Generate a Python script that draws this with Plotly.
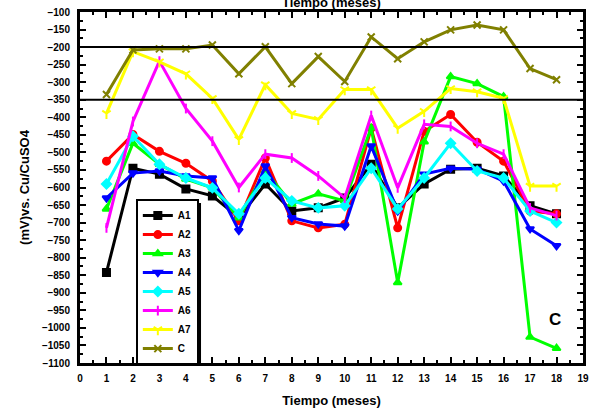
import plotly.graph_objects as go

months = list(range(1, 19))
series_names = ["A1", "A2", "A3", "A4", "A5", "A6", "A7", "C"]
a1 = [-842, -545, -562, -604, -624, -686, -590, -667, -658, -630, -534, -658, -590, -548, -545, -567, -652, -675]
a2 = [-525, -449, -497, -531, -582, -695, -516, -695, -715, -705, -431, -715, -440, -392, -471, -525, -667, -675]
a3 = [-661, -474, -534, -576, -601, -686, -553, -647, -618, -638, -430, -871, -470, -284, -304, -341, -1026, -1058]
a4 = [-630, -559, -553, -567, -573, -723, -539, -686, -704, -710, -482, -667, -562, -545, -548, -582, -718, -766]
a5 = [-590, -454, -534, -573, -601, -675, -573, -638, -658, -652, -545, -661, -573, -474, -553, -573, -667, -700]
a6 = [-715, -412, -240, -375, -468, -600, -505, -516, -567, -630, -395, -601, -420, -426, -474, -505, -658, -680]
a7 = [-389, -213, -242, -276, -346, -463, -307, -389, -406, -321, -321, -431, -383, -318, -327, -346, -596, -596]
c = [-335, -208, -205, -205, -194, -276, -199, -304, -227, -298, -171, -233, -185, -151, -137, -151, -261, -293]
series_values = [a1, a2, a3, a4, a5, a6, a7, c]
thresholds = [-200, -350]

colors = ["#000000", "#FF0000", "#00FF00", "#0000FF", "#00FFFF", "#FF00FF", "#FFFF00", "#808000"]
symbols = ["square", "circle", "triangle-up", "triangle-down", "diamond", "line-ns", "y-down", "x-thin"]

FONT = "Liberation Sans, Arial, sans-serif"

fig = go.Figure()
for name, vals, col, sym in zip(series_names, series_values, colors, symbols):
    fig.add_trace(go.Scatter(
        x=months, y=vals, name=name, mode="lines+markers",
        line=dict(color=col, width=3),
        marker=dict(symbol=sym, size=7, color=col, line=dict(color=col, width=2)),
    ))

for t in thresholds:
    fig.add_shape(type="line", xref="paper", x0=0, x1=1, yref="y", y0=t, y1=t,
                  line=dict(color="black", width=2), layer="above")

# legend drop shadow
fig.add_shape(type="rect", xref="paper", yref="paper",
              x0=0.119, x1=0.2406, y0=-0.0085, y1=0.456,
              fillcolor="black", line=dict(width=0), layer="above")

axis_common = dict(
    showline=True, linecolor="black", linewidth=3, mirror="allticks",
    ticks="inside", ticklen=6, tickwidth=2, tickcolor="black",
    showgrid=False, zeroline=False, automargin=False,
    tickfont=dict(family=FONT, size=10, color="black", weight="bold"),
)

fig.update_xaxes(range=[0, 19], dtick=1, tick0=0, ticklabelstandoff=4,
                 minor=dict(dtick=0.5, ticks="inside", ticklen=3, tickwidth=2, tickcolor="black"),
                 title=dict(text="<b>Tiempo (meses)</b>", font=dict(family=FONT, size=13, color="black"), standoff=13),
                 **axis_common)
fig.update_yaxes(range=[-1100, -100], dtick=50, tick0=-1100, ticklabelstandoff=5,
                 minor=dict(dtick=25, ticks="inside", ticklen=3, tickwidth=2, tickcolor="black"),
                 title=dict(text="<b>(mV)vs. Cu/CuSO4</b>", font=dict(family=FONT, size=13, color="black"), standoff=10),
                 **axis_common)

fig.add_annotation(x=17.95, y=-975, xref="x", yref="y", text="<b>C</b>", showarrow=False,
                   font=dict(family=FONT, size=17, color="black"))
fig.add_annotation(x=0.5, y=1.028, xref="paper", yref="paper", text="<b>Tiempo (meses)</b>",
                   showarrow=False, yanchor="middle",
                   font=dict(family=FONT, size=13, color="black"))

fig.update_layout(
    width=591, height=412,
    margin=dict(l=80, r=8, t=12, b=49),
    paper_bgcolor="white", plot_bgcolor="white",
    showlegend=True,
    legend=dict(x=0.111, y=0.467, xanchor="left", yanchor="top",
                bgcolor="white", bordercolor="black", borderwidth=2,
                itemwidth=30, tracegroupgap=0,
                font=dict(family=FONT, size=10, color="black", weight="bold")),
)

fig.write_html("out.html", config={"displayModeBar": False},
               post_script="document.body.style.margin='0';document.body.style.overflow='hidden';")
